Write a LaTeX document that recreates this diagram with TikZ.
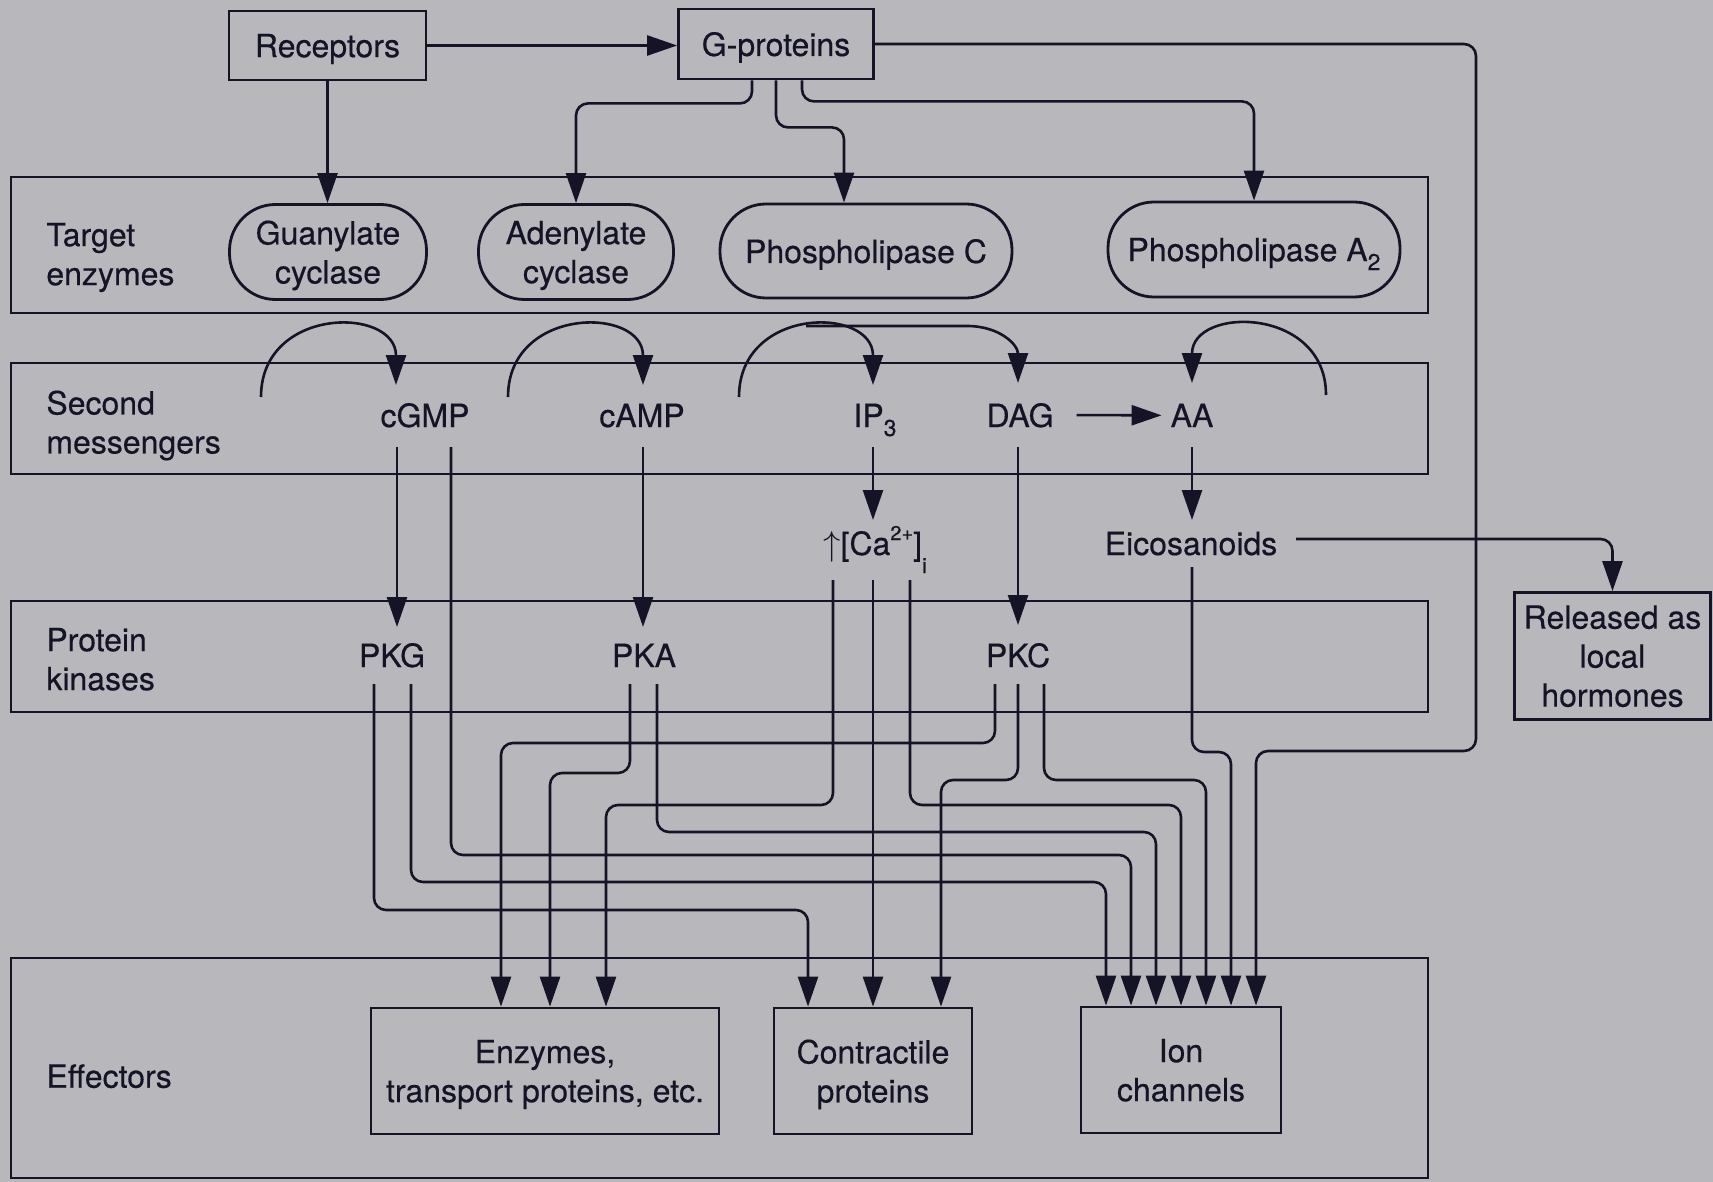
\documentclass[tikz,border=0pt]{standalone}
\usepackage{fontspec}
\setmainfont{TeX Gyre Heros}[FakeBold=0.4]
\usetikzlibrary{arrows.meta,calc}
\definecolor{bg}{RGB}{184,184,188}
\definecolor{ink}{RGB}{20,20,38}
\newcommand\subr[3][4.5pt]{\raisebox{-#1}{\fontsize{#2}{#2}\selectfont #3}}
\newcommand\supr[1]{\raisebox{7.5pt}{\fontsize{10}{10}\selectfont #1}}
\begin{document}
\begin{tikzpicture}[x=0.5pt,y=-0.5pt,
 every node/.style={text=ink,font=\fontsize{16}{19.5}\selectfont,align=center,text depth=0pt},
 band/.style={draw=ink,line width=1.4pt,minimum width=708.5pt,inner sep=0pt},
 box/.style={draw=ink,line width=1.4pt,inner sep=0pt},
 pill/.style={box,rounded corners=23pt},
 lbl/.style={anchor=west,align=left,inner sep=0pt},
 conn/.style={draw=ink,line width=1.3pt,rounded corners=6pt},
 arr/.style={conn,-{Triangle[length=15pt,width=10pt]}}]
\fill[bg] (0,0) rectangle (1713,1182);
\useasboundingbox (0,0) rectangle (1713,1182);

% bands
\node[band,minimum height=68pt] (tgt) at (719.5,245) {};
\node[band,minimum height=55.5pt] (sec) at (719.5,418.5) {};
\node[band,minimum height=55.5pt] (pk) at (719.5,656.5) {};
\node[band,minimum height=110pt] (eff) at (719.5,1068) {};

% band labels
\node[lbl] (tgtlbl) at (46,254) {Target\\enzymes};
\node[lbl] (seclbl) at (46,422) {Second\\messengers};
\node[lbl] (pklbl) at (46,659) {Protein\\kinases};
\node[lbl] (efflbl) at (46,1076) {Effectors};

% top boxes
\node[box,minimum width=98.5pt,minimum height=34.5pt] (rec) at (327.5,45.5) {Receptors};
\node[box,minimum width=97.5pt,minimum height=35pt] (gp) at (776,44) {G-proteins};
\node[pill,minimum width=98.5pt,minimum height=47.5pt] (gc) at (328,252) {Guanylate\\cyclase};
\node[pill,minimum width=97.5pt,minimum height=47.5pt] (ac) at (576,252) {Adenylate\\cyclase};
\node[pill,minimum width=146pt,minimum height=47pt] (plc) at (866,251) {Phospholipase C};
\node[pill,minimum width=146pt,minimum height=47.5pt] (pla) at (1254,249.5) {Phospholipase A\subr{11.5}{2}};

% second messengers and products
\node[anchor=base] (cgmp) at (425,427) {cGMP};
\node[anchor=base] (camp) at (642,427) {cAMP};
\node[anchor=base] (ip3) at (875,427) {IP\subr{11.5}{3}};
\node[anchor=base] (dag) at (1020,427) {DAG};
\node[anchor=base] (aa) at (1192,427) {AA};
\node[anchor=base] (ca) at (875,555) {$\uparrow$[Ca\supr{2+}]\subr[9pt]{10.5}{i}};
\node[anchor=base] (eico) at (1191,555) {Eicosanoids};
\node[anchor=base] (pkg) at (392,667) {PKG};
\node[anchor=base] (pka) at (644,667) {PKA};
\node[anchor=base] (pkc) at (1018,667) {PKC};

% effectors
\node[box,minimum width=174pt,minimum height=63pt] (enz) at (545,1071) {Enzymes,\\transport proteins, etc.};
\node[box,minimum width=99pt,minimum height=63pt] (con) at (873,1071) {Contractile\\proteins};
\node[box,minimum width=100pt,minimum height=63pt] (ion) at (1181,1070) {Ion\\channels};
\node[box,minimum width=98pt,minimum height=63.5pt] (rel) at (1612.5,656) {Released as\\local\\hormones};

% ports
\coordinate (gcOut) at (261,397);  \coordinate (cgmpA) at (396,385);
\coordinate (acOut) at (508,397);  \coordinate (campA) at (643,385);
\coordinate (plcOut) at (739,397); \coordinate (ip3A) at (873,385);
\coordinate (plcTop) at (806,326); \coordinate (dagA) at (1018,383);
\coordinate (plaOut) at (1326,395); \coordinate (aaA) at (1192,383);
\coordinate (cgmpD) at (397,447); \coordinate (cgmpR) at (451,447);
\coordinate (campD) at (643,447); \coordinate (ip3D) at (873,447);
\coordinate (dagD) at (1018,447); \coordinate (aaD) at (1192,447);
\coordinate (pkgIn) at (397,627); \coordinate (pkaIn) at (643,627);
\coordinate (pkcIn) at (1018,625); \coordinate (caIn) at (873,520);
\coordinate (eicoIn) at (1192,520);
\coordinate (pkgL) at (374,684); \coordinate (pkgR) at (411,684);
\coordinate (pkaL) at (630,684); \coordinate (pkaR) at (657,684);
\coordinate (pkcL) at (995,684); \coordinate (pkcM) at (1018,684); \coordinate (pkcR) at (1044,684);
\coordinate (caL) at (833,580); \coordinate (caM) at (873,580); \coordinate (caR) at (910,580);
\coordinate (eicoD) at (1192,567); \coordinate (eicoR) at (1296,539);

% top connectors
\draw[arr] (rec.east) -- (gp.west |- rec.east);
\draw[arr] (rec.south) -- (rec.south |- gc.north);
\draw[arr] ($(gp.south)+(-24,0)$) -- ++(0,23) -| (ac.north);
\draw[arr] (gp.south) -- ++(0,47) -| ($(plc.north)+(-22,0)$);
\draw[arr] ($(gp.south)+(26,0)$) -- ++(0,21) -| (pla.north);

% enzyme -> second messenger arcs
\draw[arr] (gcOut) .. controls (261,306) and (396,306) .. (cgmpA);
\draw[arr] (acOut) .. controls (508,306) and (643,306) .. (campA);
\draw[arr] (plcOut) .. controls (739,306) and (873,306) .. (ip3A);
\draw[arr] (plcTop) -- (955,326) .. controls (1000,326) and (1018,345) .. (dagA);
\draw[arr] (plaOut) .. controls (1326,306) and (1192,306) .. (aaA);
\draw[arr] ($(dag.east)+(16,0)$) -- ($(aa.west)+(-2,0)$);

% second messengers -> next level
\draw[arr] (cgmpD) -- (pkgIn);
\draw[arr] (campD) -- (pkaIn);
\draw[arr] (ip3D) -- (caIn);
\draw[arr] (dagD) -- (pkcIn);
\draw[arr] (aaD) -- (eicoIn);
\draw[arr] (eicoR) -| (rel.north);

% to enzymes
\draw[arr] (pkcL) -- (pkcL |- 0,743) -| ($(enz.north)+(-44,0)$);
\draw[arr] (pkaL) -- (pkaL |- 0,773) -| ($(enz.north)+(5,0)$);
\draw[arr] (caL) -- (caL |- 0,805) -| ($(enz.north)+(61,0)$);
% to contractile proteins
\draw[arr] (pkgL) -- (pkgL |- 0,910) -| ($(con.north)+(-65,0)$);
\draw[arr] (caM) -- (caM |- con.north);
\draw[arr] (pkcM) -- (pkcM |- 0,780) -| ($(con.north)+(68,0)$);
% to ion channels
\draw[arr] (pkgR) -- (pkgR |- 0,882) -| ($(ion.north)+(-75,0)$);
\draw[arr] (cgmpR) -- (cgmpR |- 0,855) -| ($(ion.north)+(-50,0)$);
\draw[arr] (pkaR) -- (pkaR |- 0,832) -| ($(ion.north)+(-25,0)$);
\draw[arr] (caR) -- (caR |- 0,805) -| (ion.north);
\draw[arr] (pkcR) -- (pkcR |- 0,780) -| ($(ion.north)+(25,0)$);
\draw[arr] (eicoD) -- (eicoD |- 0,752) -| ($(ion.north)+(50,0)$);
\draw[arr] (gp.east) -| (1476,751) -| ($(ion.north)+(75,0)$);
\end{tikzpicture}
\end{document}
